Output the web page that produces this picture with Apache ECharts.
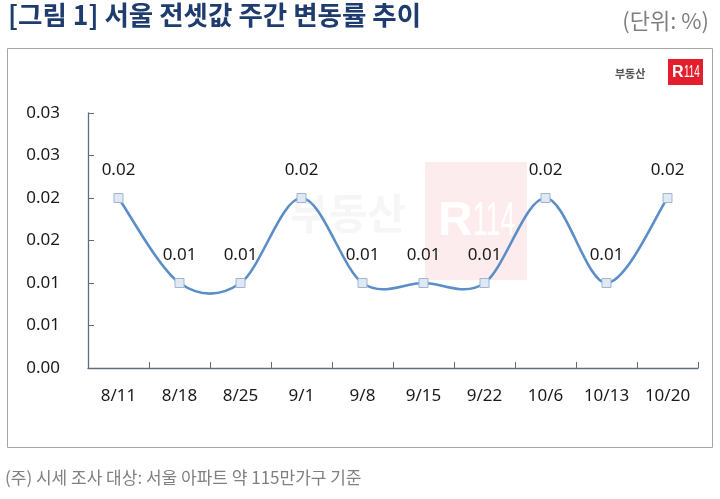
<!DOCTYPE html>
<html>
<head>
<meta charset="utf-8">
<script src="https://cdn.jsdelivr.net/npm/echarts@6/dist/echarts.min.js"></script>
<style>html,body{margin:0;padding:0;background:#fff}#c{width:720px;height:499px}</style>
</head>
<body>
<div id="c"></div>
<script>
const categories = ['8/11','8/18','8/25','9/1','9/8','9/15','9/22','10/6','10/13','10/20'];
const values = [0.02, 0.01, 0.01, 0.02, 0.01, 0.01, 0.01, 0.02, 0.01, 0.02];
const valueLabels = ['0.02','0.01','0.01','0.02','0.01','0.01','0.01','0.02','0.01','0.02'];
const yTickLabels = ['0.00','0.01','0.01','0.02','0.02','0.03','0.03'];
const titleText = '[그림 1] 서울 전셋값 주간 변동률 추이';
const unitText = '(단위: %)';
const noteText = '(주) 시세 조사 대상: 서울 아파트 약 115만가구 기준';

const FONT = '"Noto Sans", "Noto Sans CJK KR", sans-serif';
const LINE_COLOR = '#5b8ec6';

// Spreadsheet-style smoothed curve (Catmull-Rom, 1/6 tension) through the data points
function renderSmooth(params, api) {
  if (params.dataIndex !== 0) return null;
  const pts = values.map((v, i) => api.coord([i, v]));
  let d = 'M' + pts[0][0] + ' ' + pts[0][1];
  for (let i = 0; i < pts.length - 1; i++) {
    const p0 = pts[Math.max(i - 1, 0)], p1 = pts[i], p2 = pts[i + 1], p3 = pts[Math.min(i + 2, pts.length - 1)];
    const c1x = p1[0] + (p2[0] - p0[0]) / 6, c1y = p1[1] + (p2[1] - p0[1]) / 6;
    const c2x = p2[0] - (p3[0] - p1[0]) / 6, c2y = p2[1] - (p3[1] - p1[1]) / 6;
    d += ' C' + c1x + ' ' + c1y + ' ' + c2x + ' ' + c2y + ' ' + p2[0] + ' ' + p2[1];
  }
  return { type: 'path', shape: { pathData: d }, style: { stroke: LINE_COLOR, fill: 'none', lineWidth: 2.6 } };
}

const chart = echarts.init(document.getElementById('c'));
chart.setOption({
  backgroundColor: '#fff',
  animation: false,
  grid: { left: 88, right: 22, top: 113, bottom: 131 },
  xAxis: {
    type: 'category',
    data: categories,
    boundaryGap: true,
    axisLine: { lineStyle: { color: '#5f6e7e', width: 1.3 } },
    axisTick: { show: true, inside: true, length: 6, alignWithLabel: false, lineStyle: { color: '#5f6e7e' } },
    axisLabel: { color: '#1a1a1a', fontSize: 17, fontFamily: FONT, margin: 20, interval: 0 },
    splitLine: { show: false }
  },
  yAxis: {
    type: 'value',
    min: 0, max: 0.03, interval: 0.005,
    axisLine: { show: true, lineStyle: { color: '#5f6e7e', width: 1.3 } },
    axisTick: { show: true, inside: true, length: 6, lineStyle: { color: '#5f6e7e' } },
    axisLabel: {
      color: '#1a1a1a', fontSize: 17, fontFamily: FONT, margin: 28,
      formatter: v => yTickLabels[Math.round(v / 0.005)]
    },
    splitLine: { show: false }
  },
  series: [{
    type: 'custom',
    z: 4,
    data: values.map((v, i) => [i, v]),
    renderItem: renderSmooth,
    silent: true
  }, {
    type: 'line',
    data: values,
    z: 5,
    lineStyle: { width: 0, opacity: 0 },
    symbol: 'rect',
    symbolSize: 9,
    showSymbol: true,
    itemStyle: { color: '#dfe8f3', borderColor: '#9fb6d3', borderWidth: 1 },
    label: {
      show: true, position: 'top', distance: 14,
      color: '#1a1a1a', fontSize: 17, fontFamily: FONT,
      formatter: p => valueLabels[p.dataIndex]
    }
  }],
  graphic: [
    { type: 'rect', z: -20, shape: { x: 7.5, y: 48.5, width: 705, height: 399 },
      style: { fill: 'none', stroke: '#a6a6a6', lineWidth: 1 } },
    { type: 'text', left: 8, top: 2, z: 10,
      style: { text: titleText, fill: '#1f3c6e', font: 'bold 26.5px "Noto Sans CJK KR", sans-serif' } },
    { type: 'text', right: 11, top: 10, z: 10,
      style: { text: unitText, fill: '#808080', font: '22px "Noto Sans CJK KR", sans-serif' } },
    { type: 'text', left: 5, top: 469, z: 10,
      style: { text: noteText, fill: '#808080', font: '17px "Noto Sans CJK KR", sans-serif' } },
    // logo
    { type: 'text', left: 615, top: 68, z: 10,
      style: { text: '부동산', fill: '#555555', font: 'bold 11px "Noto Sans CJK KR", sans-serif' } },
    { type: 'rect', z: 10, shape: { x: 668, y: 59, width: 35, height: 26 }, style: { fill: '#e31e2d' } },
    { type: 'text', z: 11, x: 672, y: 73,
      style: { text: 'R', fill: '#fff', font: 'bold 16px "Liberation Sans", sans-serif', verticalAlign: 'middle' } },
    { type: 'text', z: 11, x: 684, y: 73, scaleX: 0.62,
      style: { text: '114', fill: '#fff', font: '16px "Liberation Sans", sans-serif', verticalAlign: 'middle' } },
    // watermark
    { type: 'rect', z: -10, shape: { x: 425, y: 162, width: 102, height: 118 }, style: { fill: '#fcecee' } },
    { type: 'text', z: -9, x: 438, y: 222,
      style: { text: 'R', fill: '#fff', font: 'bold 48px "Liberation Sans", sans-serif', verticalAlign: 'middle' } },
    { type: 'text', z: -9, x: 473, y: 222, scaleX: 0.55,
      style: { text: '114', fill: '#fff', font: '48px "Liberation Sans", sans-serif', verticalAlign: 'middle' } },
    { type: 'text', z: -9, left: 290, top: 192,
      style: { text: '부동산', fill: '#f6f6f6', font: 'bold 42px "Noto Sans CJK KR", sans-serif' } }
  ]
});
</script>
</body>
</html>
